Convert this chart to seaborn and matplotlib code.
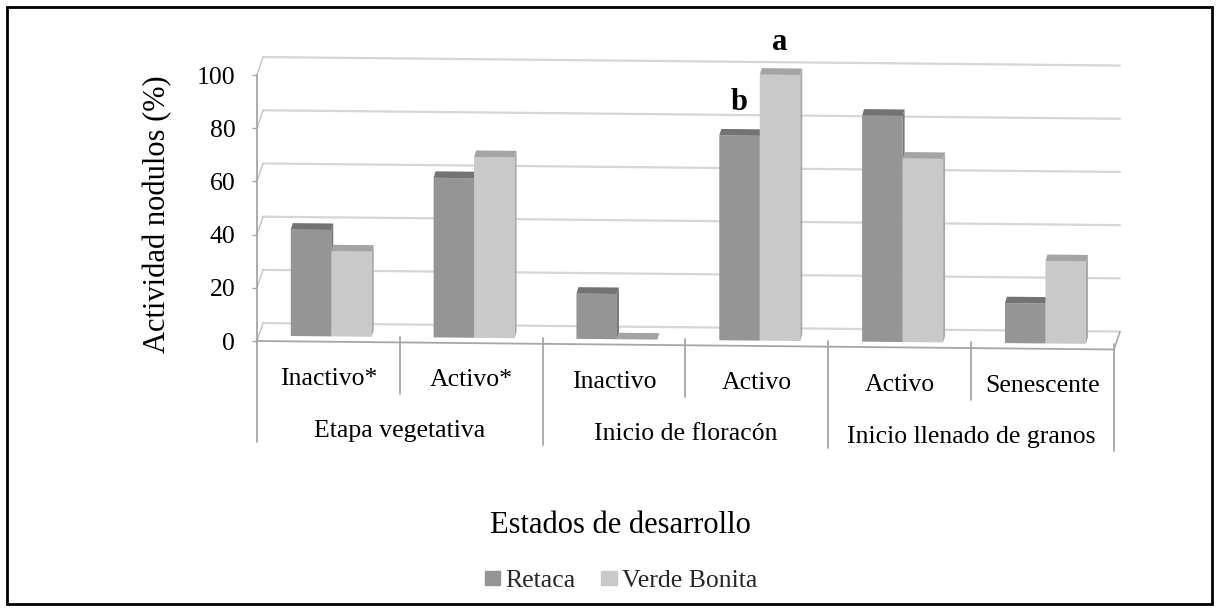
import matplotlib
matplotlib.use("Agg")
import matplotlib.pyplot as plt
from matplotlib.patches import Polygon, Patch, Rectangle
from matplotlib.transforms import Affine2D
import pandas as pd
import seaborn as sns

# ---- data -------------------------------------------------------------
grupos = ["Etapa vegetativa", "Inicio de floracón", "Inicio llenado de granos"]
estados = ["Inactivo*", "Activo*", "Inactivo", "Activo", "Activo", "Senescente"]
grupo_de_estado = [0, 0, 1, 1, 2, 2]
variedades = ["Retaca", "Verde Bonita"]
retaca = [40, 60, 17, 77, 85, 15]
verde_bonita = [32, 68, 0, 100, 69, 31]
letras = [("Retaca", 3, "b"), ("Verde Bonita", 3, "a")]
y_ticks = [0, 20, 40, 60, 80, 100]

colores = {"Retaca": "#959595", "Verde Bonita": "#c9c9c9"}
color_tapa = {"Retaca": "#737373", "Verde Bonita": "#a4a4a4"}
color_lado = {"Retaca": "#787878", "Verde Bonita": "#a9a9a9"}

claves = [f"{grupos[g]} | {e}" for g, e in zip(grupo_de_estado, estados)]
df = pd.DataFrame({
    "estado": claves * 2,
    "variedad": ["Retaca"] * len(claves) + ["Verde Bonita"] * len(claves),
    "actividad": retaca + verde_bonita,
})

# ---- figure -----------------------------------------------------------
sns.set_theme(style="white")
plt.rcParams["font.family"] = ["Liberation Serif", "DejaVu Serif"]

W, H = 1217, 611
fig = plt.figure(figsize=(W / 100, H / 100), dpi=100)
px_unit = 2.66                       # pixels per percentage point
ax = fig.add_axes([257 / W, 1 - 341 / H, 857 / W, (341 - 40) / H])

sns.barplot(data=df, x="estado", y="actividad", hue="variedad",
            order=claves, hue_order=variedades, palette=colores,
            width=0.567, saturation=1, errorbar=None, legend=False,
            linewidth=0, ax=ax)

ax.set_xlim(-0.5, 5.5)
ax.set_ylim(0, 301 / px_unit)
for s in ax.spines.values():
    s.set_visible(False)
ax.set_xticks([])
ax.set_xlabel("")
ax.set_ylabel("")
ax.set_yticks(y_ticks)
ax.tick_params(axis="y", left=True, length=3.6, width=1.0, color="#a6a6a6",
               pad=12, labelsize=18.5, labelcolor="black")
ax.grid(False)

# slight perspective: everything drifts down towards the right
K = 8.5 / px_unit / 6
floor_t = Affine2D.from_values(1, -K, 0, 1, 0, -0.5 * K) + ax.transData
bar_t = Affine2D.from_values(1, -K, 0, 1, 0.02, -0.5 * K + 2.0) + ax.transData

wall_dx, wall_dy = 6 / 142.8, 18 / px_unit      # depth of the floor / side wall
face_dx, face_dy = 2 / 142.8, 6.5 / px_unit     # depth of each column

axis_col = "#a6a6a6"
for v in y_ticks:
    ax.plot([-0.5 + wall_dx, 5.5 + wall_dx], [v + wall_dy] * 2, color="#d6d6d6",
            lw=1.6, transform=floor_t, clip_on=False, zorder=0.5,
            solid_capstyle="round")
    ax.plot([-0.5, -0.5 + wall_dx], [v, v + wall_dy], color="#c4c4c4", lw=1.0,
            transform=floor_t, clip_on=False, zorder=0.6)

# floor edges and value axis
ax.plot([-0.5, 5.5], [0, 0], color=axis_col, lw=1.3, transform=floor_t,
        clip_on=False, zorder=1)
ax.plot([5.5, 5.5 + wall_dx], [0, wall_dy], color=axis_col, lw=1.1,
        transform=floor_t, clip_on=False, zorder=1)
ax.plot([-0.5, -0.5], [100, -38], color=axis_col, lw=1.3, transform=floor_t,
        clip_on=False, zorder=1)

# category separators
for b in [0.5, 1.5, 2.5, 3.5, 4.5, 5.5]:
    largo = b in (1.5, 3.5, 5.5)
    ax.plot([b, b], [2.2, -38 if largo else -19.5], color=axis_col, lw=1.3,
            transform=floor_t, clip_on=False, zorder=1)

# columns with top and side faces
for hi, var in enumerate(variedades):
    for bar in ax.containers[hi]:
        bar.set_transform(bar_t)
        bar.set_clip_on(False)
        bar.set_zorder(2 + hi)
        x0, w, h = bar.get_x(), bar.get_width(), bar.get_height()
        tapa = Polygon([(x0, h), (x0 + w, h), (x0 + w + face_dx, h + face_dy),
                        (x0 + face_dx, h + face_dy)], closed=True,
                       facecolor=color_tapa[var], edgecolor="none",
                       transform=bar_t, clip_on=False, zorder=2.2 + hi)
        lado = Polygon([(x0 + w, 0), (x0 + w + face_dx, face_dy),
                        (x0 + w + face_dx, h + face_dy), (x0 + w, h)],
                       closed=True, facecolor=color_lado[var], edgecolor="none",
                       transform=bar_t, clip_on=False, zorder=2.1 + hi)
        ax.add_patch(tapa)
        ax.add_patch(lado)

# significance letters
for var, ci, letra in letras:
    bar = ax.containers[variedades.index(var)][ci]
    ax.text(bar.get_x() + bar.get_width() / 2, bar.get_height() + 9.5, letra,
            transform=bar_t, ha="center", va="baseline", fontsize=22,
            fontweight="bold", color="black", clip_on=False, zorder=5)

# two-level category labels
for i, e in enumerate(estados):
    ax.text(i, -16.3, e, transform=floor_t, ha="center", va="baseline",
            fontsize=18.5, color="black", clip_on=False)
for g, nombre in enumerate(grupos):
    ax.text(2 * g + 0.5, -35.5, nombre, transform=floor_t, ha="center",
            va="baseline", fontsize=18.5, color="black", clip_on=False)

fig.text(620 / W, 1 - 533 / H, "Estados de desarrollo", ha="center",
         va="baseline", fontsize=22, color="black")
fig.text(158 / W, 1 - 214 / H, "Actividad nodulos (%)", rotation=90,
         ha="center", va="center", fontsize=22, color="black")

fig.legend(handles=[Patch(color=colores[v], label=v) for v in variedades],
           loc="center", bbox_to_anchor=(621 / W, 1 - 581 / H), ncol=2,
           frameon=False, fontsize=18.5, handlelength=0.6, handleheight=0.45,
           handletextpad=0.2, columnspacing=1.0, borderpad=0)

fig.add_artist(Rectangle((7 / W, 7 / H), (1212 - 7) / W, (604 - 7) / H,
                         transform=fig.transFigure, fill=False,
                         edgecolor="black", lw=2))

fig.savefig("out.png", dpi=100)
